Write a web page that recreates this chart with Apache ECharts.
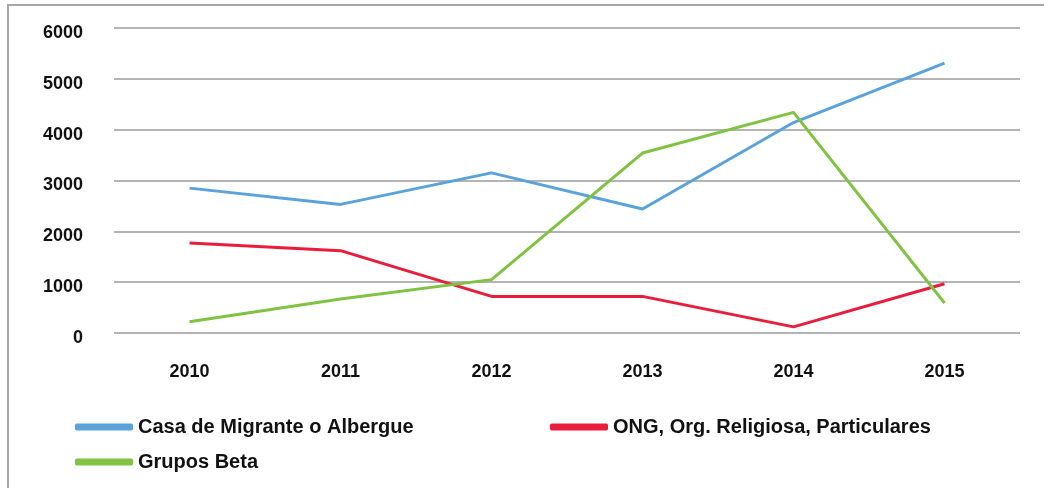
<!DOCTYPE html>
<html>
<head>
<meta charset="utf-8">
<script src="https://cdn.jsdelivr.net/npm/echarts@6/dist/echarts.min.js"></script>
<style>
html,body{margin:0;padding:0;background:#fff;}
#c{width:1044px;height:488px;}
</style>
</head>
<body>
<div id="c"></div>
<script>
var years = ['2010', '2011', '2012', '2013', '2014', '2015'];
var casaMigrante = [2850, 2530, 3150, 2440, 4140, 5310];
var ongReligiosa = [1770, 1620, 720, 720, 120, 970];
var gruposBeta = [220, 670, 1050, 3540, 4340, 590];
var seriesNames = ['Casa de Migrante o Albergue', 'ONG, Org. Religiosa, Particulares', 'Grupos Beta'];
var colors = ['#5aa2dc', '#ea1c3c', '#80c342'];

var chart = echarts.init(document.getElementById('c'));
var legendBase = {
  orient: 'horizontal',
  icon: 'roundRect',
  padding: 0,
  itemWidth: 58,
  itemHeight: 7,
  textStyle: {fontFamily: 'Liberation Sans, Arial, sans-serif', fontWeight: 'bold', fontSize: 20, color: '#111'},
  selectedMode: false
};
chart.setOption({
  animation: false,
  color: colors,
  graphic: [
    {type: 'rect', shape: {x: 7, y: 4, width: 1037, height: 2}, style: {fill: '#a8a8a8'}},
    {type: 'rect', shape: {x: 7, y: 4, width: 2, height: 484}, style: {fill: '#a8a8a8'}}
  ],
  grid: {left: 114, right: 24, top: 28, bottom: 155},
  legend: [
    Object.assign({}, legendBase, {data: [seriesNames[0]], left: 75, top: 417}),
    Object.assign({}, legendBase, {data: [seriesNames[1]], left: 550, top: 417}),
    Object.assign({}, legendBase, {data: [seriesNames[2]], left: 75, top: 452})
  ],
  xAxis: {
    type: 'category',
    data: years,
    boundaryGap: true,
    axisLine: {show: false},
    axisTick: {show: false},
    axisLabel: {margin: 30, fontFamily: 'Liberation Sans, Arial, sans-serif', fontWeight: 'bold', fontSize: 18, color: '#111'}
  },
  yAxis: {
    type: 'value',
    min: 0,
    max: 6000,
    interval: 1000,
    axisLine: {show: false},
    axisTick: {show: false},
    splitLine: {lineStyle: {color: '#b4b4b4', width: 2}},
    axisLabel: {
      margin: 31, verticalAlign: 'top', lineHeight: 10,
      formatter: function (v) { return String(v); },
      fontFamily: 'Liberation Sans, Arial, sans-serif', fontWeight: 'bold', fontSize: 18, color: '#111'
    }
  },
  series: [
    {name: seriesNames[0], type: 'line', data: casaMigrante, symbol: 'none', lineStyle: {width: 3, color: colors[0]}},
    {name: seriesNames[1], type: 'line', data: ongReligiosa, symbol: 'none', lineStyle: {width: 3, color: colors[1]}},
    {name: seriesNames[2], type: 'line', data: gruposBeta, symbol: 'none', lineStyle: {width: 3, color: colors[2]}}
  ]
});
</script>
</body>
</html>
